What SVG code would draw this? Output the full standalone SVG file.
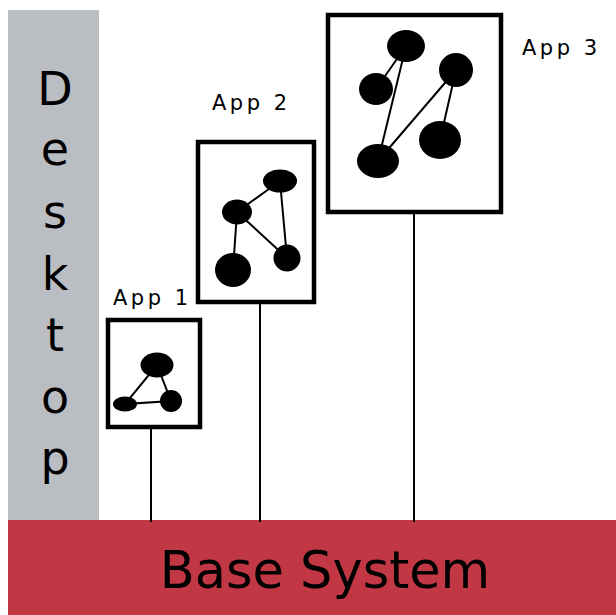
<svg xmlns="http://www.w3.org/2000/svg" width="616" height="615" viewBox="0 0 616 615">
<style>
.box{fill:#fff;stroke:#000;stroke-width:4.5}
.n{fill:#000}
.e{stroke:#000;stroke-width:2;fill:none}
.c{stroke:#000;stroke-width:2}
.lbl{font-family:"DejaVu Sans",sans-serif;font-size:21px;letter-spacing:3.5px;fill:#000}
.big{font-family:"DejaVu Sans",sans-serif;fill:#000}
</style>
<rect width="616" height="615" fill="#fff"/>
<g id="desktop">
<rect x="8" y="10" width="91" height="510" fill="#babdc2"/>
<g class="big" font-size="46" text-anchor="middle">
<text x="55" y="105">D</text>
<text x="55" y="165">e</text>
<text x="55" y="228">s</text>
<text x="55" y="290">k</text>
<text x="55" y="351">t</text>
<text x="55" y="413">o</text>
<text x="55" y="474">p</text>
</g>
</g>
<g id="base">
<rect x="8" y="520" width="608" height="95" fill="#c23744"/>
<text class="big" x="325" y="588" font-size="51" text-anchor="middle">Base System</text>
</g>
<g id="connectors">
<line class="c" x1="151" y1="428" x2="151" y2="522"/>
<line class="c" x1="260" y1="302" x2="260" y2="522"/>
<line class="c" x1="414" y1="213" x2="414" y2="522"/>
</g>
<g id="app1">
<rect class="box" x="108" y="320" width="92" height="107"/>
<path class="e" d="M157 365L125 404L171 401Z"/>
<ellipse class="n" cx="157" cy="365" rx="16.5" ry="12.5"/>
<ellipse class="n" cx="125" cy="404" rx="12" ry="7.5"/>
<ellipse class="n" cx="171" cy="401" rx="11" ry="11"/>
<text class="lbl" x="113" y="305">App 1</text>
</g>
<g id="app2">
<rect class="box" x="198" y="142" width="116" height="160"/>
<path class="e" d="M237 212L280 181L287 258ZM237 212L233 270"/>
<ellipse class="n" cx="280" cy="181" rx="17" ry="11.5"/>
<ellipse class="n" cx="237" cy="212" rx="15" ry="12.5"/>
<ellipse class="n" cx="233" cy="270" rx="18" ry="17"/>
<ellipse class="n" cx="287" cy="258" rx="13.5" ry="13.5"/>
<text class="lbl" x="212" y="110">App 2</text>
</g>
<g id="app3">
<rect class="box" x="328" y="15" width="173" height="197"/>
<path class="e" d="M406 46L376 89M406 46L378 161L456 70L440 140"/>
<ellipse class="n" cx="406" cy="46" rx="19" ry="16"/>
<ellipse class="n" cx="376" cy="89" rx="17" ry="16"/>
<ellipse class="n" cx="456" cy="70" rx="17" ry="17"/>
<ellipse class="n" cx="440" cy="140" rx="21" ry="19"/>
<ellipse class="n" cx="378" cy="161" rx="21" ry="17"/>
<text class="lbl" x="522" y="55">App 3</text>
</g>
</svg>
